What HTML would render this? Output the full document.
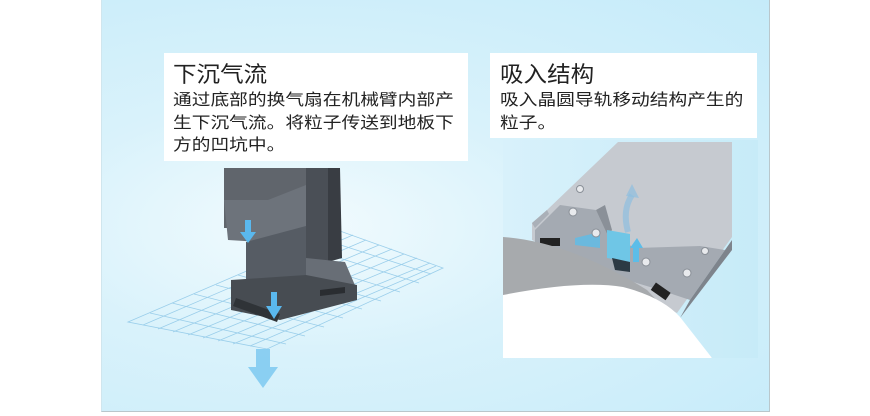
<!DOCTYPE html>
<html><head><meta charset="utf-8"><style>
body{margin:0;width:870px;height:416px;background:#fff;position:relative;overflow:hidden;font-family:"Liberation Sans","Noto Sans CJK SC",sans-serif}
#panel{position:absolute;left:101px;top:0;width:667px;height:411px;background:radial-gradient(ellipse at 30% 55%,#f2fbfe 0%,#d9f2fb 40%,#c5ebf9 100%);border-right:1px solid #b9c7cc;border-bottom:1px solid #b9c7cc;border-left:1px solid #d0e6ee}
.box{position:absolute;background:#fff;color:#222}
.t{font-size:22px;line-height:28px;transform:scaleX(1.07);transform-origin:0 0;white-space:nowrap}
.b{font-size:16px;line-height:22.5px;transform:scaleX(1.17);transform-origin:0 0;white-space:nowrap}
</style></head><body>
<div id="panel"></div>
<svg style="position:absolute;left:0;top:0" width="870" height="416">
<defs>
<linearGradient id="rb" x1="0" y1="0" x2="1" y2="0"><stop offset="0" stop-color="#d8f1fb"/><stop offset="1" stop-color="#c7ebf8"/></linearGradient>
</defs>
<g stroke="#8fc8e8" stroke-width="0.8" fill="none" opacity="0.85">
<path d="M128 322 L340 231 L443 268 L267 349 Z"/>
<path d="M143 325 L353 235 M158 329 L366 240 M173 332 L379 245 M188 335 L392 249 M203 338 L404 254 M218 341 L417 258 M233 344 L430 263 M250 346 L436 266"/>
<path d="M150 313 L286 344 M172 303 L305 336 M194 294 L324 327 M216 285 L343 318 M238 275 L362 309 M260 266 L381 301 M282 256 L400 292 M304 247 L419 283 M322 239 L431 274"/>
</g>
<polygon points="224,168 306,168 306,200 268,228 224,228" fill="#60656c"/>
<polygon points="224,200 268,200 306,185 306,228 262,242 228,240" fill="#6d737b"/>
<polygon points="306,168 328,168 328,262 306,275" fill="#4a4f56"/>
<polygon points="328,168 340,168 342,258 328,262" fill="#393d43"/>
<polygon points="246,242 306,226 306,290 270,300 246,295" fill="#565c64"/>
<polygon points="306,258 345,262 357,290 306,290" fill="#686e76"/>
<polygon points="231,280 306,275 357,285 357,300 280,320 231,310" fill="#474c52"/>
<polygon points="236,298 280,314 277,322 233,306" fill="#2f3337"/>
<polygon points="320,290 345,287 345,293 320,296" fill="#2a2d31"/>
<polygon points="245,220 251,220 251,232 256,232 248,243 240,232 245,232" fill="#5ab8ee"/>
<polygon points="271,292 277,292 277,306 282,306 274,319 266,306 271,306" fill="#5ab8ee"/>
<polygon points="256,349 270,349 270,367 278,367 263,388 248,367 256,367" fill="#7cc9f0" opacity="0.85"/>
<rect x="503" y="140" width="255" height="218" fill="url(#rb)"/>
<polygon points="618,142 732,142 732,237 677,313 640,295 600,270 532,240 532,223 547,210" fill="#c6cad0"/>
<polygon points="532,223 547,210 549,214 535,228" fill="#aab0b8"/>
<polygon points="535,230 560,205 596,210 608,236 636,248 700,246 725,250 690,300 660,290 620,278 570,258 535,245" fill="#a4aab2"/>
<polygon points="690,300 725,250 732,240 732,250 680,318" fill="#7e848c"/>
<polygon points="596,210 605,205 612,230 608,236" fill="#8a9098"/>
<polygon points="607,230 630,234 630,262 607,258" fill="#6fc6e6"/>
<polygon points="612,258 630,262 630,272 615,270" fill="#2c3a44"/>
<path d="M628 232 Q622 210 632 195" stroke="#8fbfe0" stroke-width="6" fill="none" opacity="0.7"/>
<polygon points="626,196 632,184 639,198" fill="#8fbfe0" opacity="0.7"/>
<polygon points="575,238 600,232 600,248 575,245" fill="#5cbde8" opacity="0.8"/>
<polygon points="633,262 633,248 630,248 637,238 643,248 639,248 639,262" fill="#5cbde8"/>
<circle cx="573" cy="212" r="4" fill="#e8eaed" stroke="#8a9098"/><circle cx="596" cy="233" r="4" fill="#e8eaed" stroke="#8a9098"/>
<circle cx="646" cy="262" r="4" fill="#e8eaed" stroke="#8a9098"/><circle cx="687" cy="273" r="4" fill="#e8eaed" stroke="#8a9098"/>
<circle cx="580" cy="189" r="3.5" fill="#e8eaed" stroke="#8a9098"/><circle cx="705" cy="251" r="3.5" fill="#e8eaed" stroke="#8a9098"/>
<rect x="540" y="238" width="20" height="8" fill="#222"/>
<rect x="652" y="287" width="18" height="9" fill="#222" transform="rotate(35 661 291)"/>
<path d="M503 237 Q547 240 597 263 Q625 276 647 290 L712 358 L503 358 Z" fill="#a7aaad"/>
<path d="M503 295 Q580 280 623 287 Q662 297 680 317 L712 358 L503 358 Z" fill="#fff"/>
</svg>
<div class="box" style="left:164px;top:53px;width:304px;height:108px">
<div class="t" style="position:absolute;left:9px;top:8px">下沉气流</div>
<div class="b" style="position:absolute;left:9px;top:37px">通过底部的换气扇在机械臂内部产<br>生下沉气流。将粒子传送到地板下<br>方的凹坑中。</div>
</div>
<div class="box" style="left:490px;top:53px;width:267px;height:85px">
<div class="t" style="position:absolute;left:10px;top:8px">吸入结构</div>
<div class="b" style="position:absolute;left:10px;top:37px">吸入晶圆导轨移动结构产生的<br>粒子。</div>
</div>
</body></html>
